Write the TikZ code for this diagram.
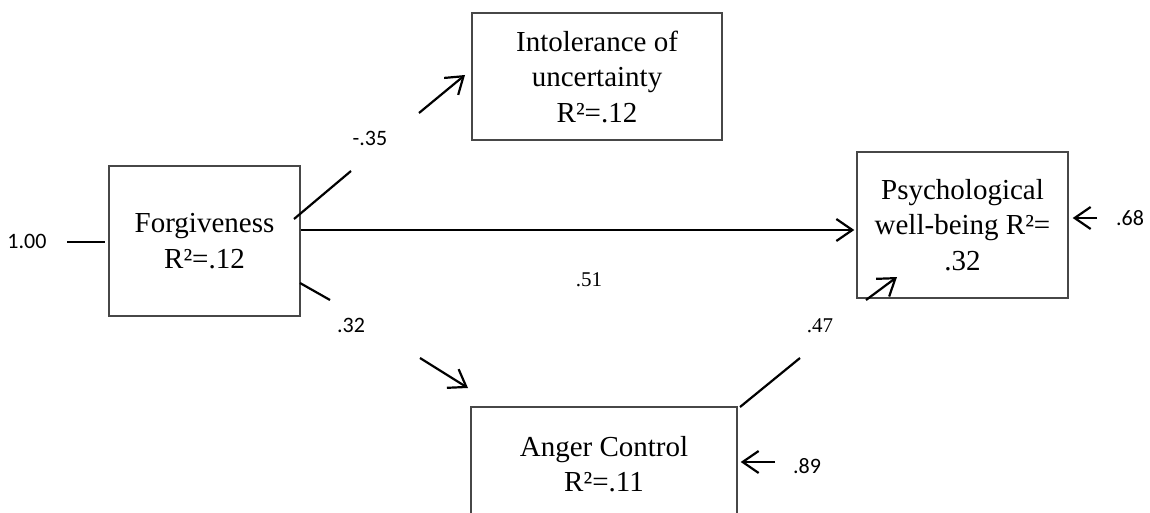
\documentclass[tikz,border=0pt]{standalone}
\usepackage{fontspec}
\setmainfont{Liberation Serif}
\newfontfamily\lblsans{Carlito}
\usetikzlibrary{arrows.meta}
\tikzset{
  box/.style={draw=black!72, line width=1.4pt, inner sep=0pt, align=center,
    font=\fontsize{29}{35.5}\selectfont},
  conn/.style={line width=2.2pt, black},
  arr/.style={conn, -{Straight Barb[length=16pt, width=22pt, line width=2.2pt]}},
  lbl/.style={font=\lblsans\fontsize{22}{24}\selectfont, inner sep=0pt},
  lbls/.style={font=\fontsize{21}{24}\selectfont, inner sep=0pt}
}
\begin{document}
\begin{tikzpicture}[x=1pt,y=-1pt]
\useasboundingbox (0,0) rectangle (1150,513);
\clip (0,0) rectangle (1150,513);
\fill[white] (0,0) rectangle (1150,513);

% boxes
\node[box, minimum width=191pt, minimum height=150pt] (F) at (204.5,241) {Forgiveness\\R²=.12};
\node[box, minimum width=250pt, minimum height=127pt] (I) at (597,76.5) {Intolerance of\\uncertainty\\R²=.12};
\node[box, minimum width=211pt, minimum height=146pt] (P) at (962.5,225) {Psychological\\well-being R²=\\.32};
\node[box, minimum width=266pt, minimum height=114pt] (A) at (604,464) {Anger Control\\R²=.11};

% labels
\node[lbl] (l100) at (27,241) {1.00};
\node[lbl] (l35) at (370,138) {-.35};
\node[lbls] (l51) at (589,280) {.51};
\node[lbl] (l32) at (351,325) {.32};
\node[lbls] (l47) at (820,326) {.47};
\node[lbl] (l68) at (1130,218) {.68};
\node[lbl] (l89) at (807,466) {.89};

% free ends of the broken connectors
\coordinate (e100) at (67,242);
\coordinate (fi1) at (294,219);
\coordinate (fi2) at (351,171);
\coordinate (fi3) at (419,113);
\coordinate (fi4) at (465,75);
\coordinate (fp) at (0,230);
\coordinate (fa1) at (300,283);
\coordinate (fa2) at (330,300);
\coordinate (fa3) at (420,358);
\coordinate (fa4) at (468,388);
\coordinate (ap1) at (740,407);
\coordinate (ap2) at (800,358);
\coordinate (ap3) at (866,300);
\coordinate (ap4) at (897,277);
\coordinate (e68) at (1097,218);
\coordinate (e89) at (775,462);

% connectors
\draw[conn] (e100) -- ([xshift=-3pt]F.west |- e100);
\draw[conn] (fi1) -- (fi2);
\draw[arr] (fi3) -- (fi4);
\draw[arr] (F.east |- fp) -- ([xshift=-2pt]P.west |- fp);
\draw[conn] (fa1) -- (fa2);
\draw[arr] (fa3) -- (fa4);
\draw[conn] (ap1) -- (ap2);
\draw[arr] (ap3) -- (ap4);
\draw[arr] (e68) -- ([xshift=4pt]P.east |- e68);
\draw[arr] (e89) -- ([xshift=3pt]A.east |- e89);
\end{tikzpicture}
\end{document}
